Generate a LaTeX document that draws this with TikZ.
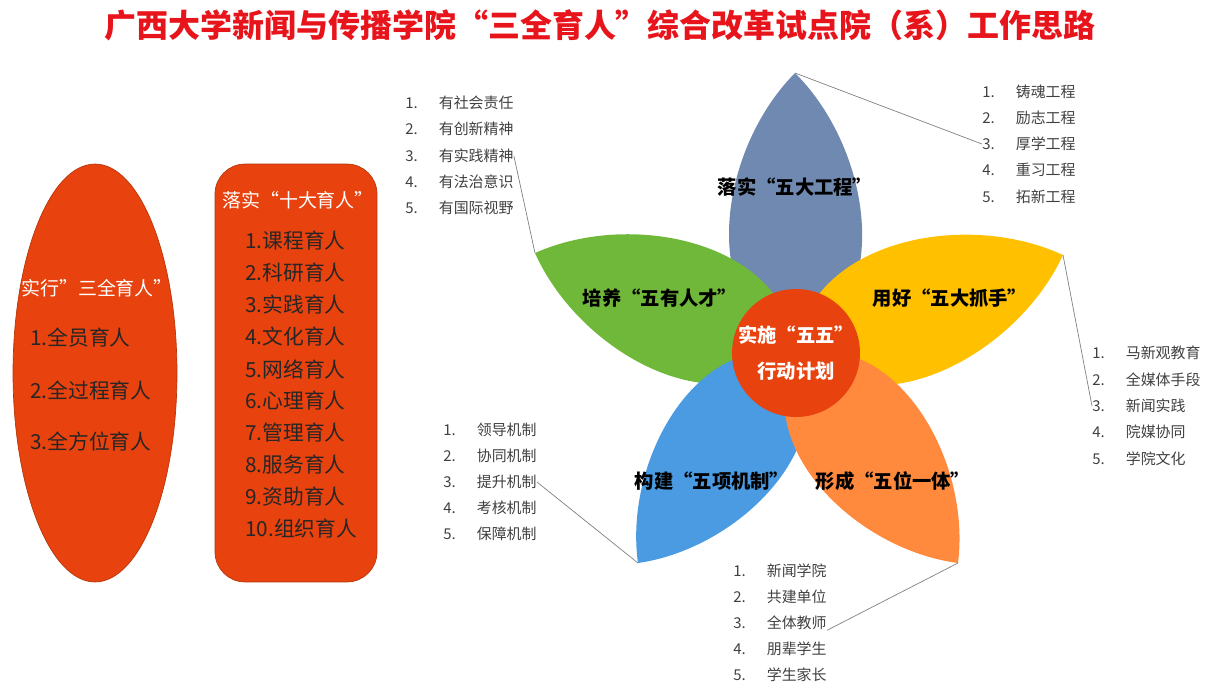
\documentclass[tikz,border=0pt]{standalone}
\usepackage{fontspec}
\setmainfont{Noto Sans CJK SC}
\usepackage{tikz}
\usetikzlibrary{shapes.geometric,positioning}

\definecolor{titlered}{HTML}{E8141B}
\definecolor{boxred}{HTML}{E8420E}
\definecolor{boxline}{HTML}{B8360A}
\definecolor{petalslate}{HTML}{6F89B0}
\definecolor{petalgreen}{HTML}{70B83A}
\definecolor{petalyellow}{HTML}{FFC000}
\definecolor{petalorange}{HTML}{FF8A3D}
\definecolor{petalblue}{HTML}{4A9BE2}
\definecolor{listgray}{HTML}{404040}

\begin{document}
\begin{tikzpicture}[x=0.02cm, y=-0.02cm,
    panel/.style={draw=boxline, fill=boxred, line width=0.4pt, minimum width=3.28cm, minimum height=8.36cm},
    head/.style={text=white, font=\fontsize{10.8}{13}\selectfont, inner sep=0pt},
    entry/.style={anchor=west, text=black!85, font=\fontsize{11.8}{13}\selectfont, inner sep=0pt},
    plabel/.style={font=\bfseries\fontsize{11}{12}\selectfont, inner sep=0pt},
    item/.style={anchor=west, text=listgray, font=\fontsize{8.5}{10}\selectfont, inner sep=0pt},
    leaf/.style={relative, out=65, in=135},
    leafback/.style={relative, out=45, in=115},
    leader/.style={draw=gray, line width=0.4pt}
]
    \useasboundingbox (0,0) rectangle (1215,691);

    % Title
    \node[font=\bfseries\fontsize{18.2}{20}\selectfont, text=titlered] (title) at (600,25) {广西大学新闻与传播学院“三全育人”综合改革试点院（系）工作思路};

    % Left column: ellipse
    \node[panel, ellipse] (sanquan) at (95,373) {};
    \node[head] (sqhead) at (97,288) {实行”三全育人”};
    \node[entry] (sq1) at (30,338) {1.全员育人};
    \node[entry] (sq2) at (30,391) {2.全过程育人};
    \node[entry] (sq3) at (30,442) {3.全方位育人};

    % Left column: rounded box
    \node[panel, rounded corners=0.6cm, minimum width=3.24cm] (shida) at (296,373) {};
    \node[head] (sdhead) at (298,200) {落实“十大育人”};
    \node[entry] (sd1) at (245,241) {1.课程育人};
    \node[entry] (sd2) at (245,273) {2.科研育人};
    \node[entry] (sd3) at (245,305) {3.实践育人};
    \node[entry] (sd4) at (245,337) {4.文化育人};
    \node[entry] (sd5) at (245,369) {5.网络育人};
    \node[entry] (sd6) at (245,401) {6.心理育人};
    \node[entry] (sd7) at (245,433) {7.管理育人};
    \node[entry] (sd8) at (245,465) {8.服务育人};
    \node[entry] (sd9) at (245,497) {9.资助育人};
    \node[entry] (sd10) at (245,529) {10.组织育人};

    % Flower
    \coordinate (hub) at (796,353);
    \coordinate (tipTop) at (795,73);
    \coordinate (tipGreen) at (535,253);
    \coordinate (tipYellow) at (1063,255);
    \coordinate (tipBlue) at (638,563);
    \coordinate (tipOrange) at (958,563);

    \fill[petalslate] (hub) to[leaf] (tipTop) to[leafback] (hub);
    \fill[petalgreen] (hub) to[leaf] (tipGreen) to[leafback] (hub);
    \fill[petalyellow] (hub) to[leaf] (tipYellow) to[leafback] (hub);
    \fill[petalblue] (hub) to[leaf] (tipBlue) to[leafback] (hub);
    \fill[petalorange] (hub) to[leaf] (tipOrange) to[leafback] (hub);

    \node[circle, fill=boxred, minimum size=2.56cm, inner sep=0pt] (plan) at (hub) {};
    \node[text=white, align=center, font=\bfseries\fontsize{11}{21}\selectfont] (plantext) at (plan.center) {实施“五五”\\行动计划};

    \node[plabel] (gongcheng) at (795,187) {落实“五大工程”};
    \node[plabel] (rencai) at (660,298) {培养“五有人才”};
    \node[plabel] (zhuashou) at (950,298) {用好“五大抓手”};
    \node[plabel] (jizhi) at (712,481) {构建“五项机制”};
    \node[plabel] (yiti) at (893,481) {形成“五位一体”};

    % Lists
    \node[item] (tl1) at (405,103) {1.\hspace{12pt}有社会责任};
    \node[item] (tl2) at (405,129) {2.\hspace{12pt}有创新精神};
    \node[item] (tl3) at (405,156) {3.\hspace{12pt}有实践精神};
    \node[item] (tl4) at (405,182) {4.\hspace{12pt}有法治意识};
    \node[item] (tl5) at (405,208) {5.\hspace{12pt}有国际视野};

    \node[item] (tr1) at (982,92) {1.\hspace{12pt}铸魂工程};
    \node[item] (tr2) at (982,118) {2.\hspace{12pt}励志工程};
    \node[item] (tr3) at (982,144) {3.\hspace{12pt}厚学工程};
    \node[item] (tr4) at (982,170) {4.\hspace{12pt}重习工程};
    \node[item] (tr5) at (982,197) {5.\hspace{12pt}拓新工程};

    \node[item] (rt1) at (1092,353) {1.\hspace{12pt}马新观教育};
    \node[item] (rt2) at (1092,380) {2.\hspace{12pt}全媒体手段};
    \node[item] (rt3) at (1092,406) {3.\hspace{12pt}新闻实践};
    \node[item] (rt4) at (1092,432) {4.\hspace{12pt}院媒协同};
    \node[item] (rt5) at (1092,459) {5.\hspace{12pt}学院文化};

    \node[item] (ml1) at (443,430) {1.\hspace{12pt}领导机制};
    \node[item] (ml2) at (443,456) {2.\hspace{12pt}协同机制};
    \node[item] (ml3) at (443,482) {3.\hspace{12pt}提升机制};
    \node[item] (ml4) at (443,508) {4.\hspace{12pt}考核机制};
    \node[item] (ml5) at (443,534) {5.\hspace{12pt}保障机制};

    \node[item] (bt1) at (733,571) {1.\hspace{12pt}新闻学院};
    \node[item] (bt2) at (733,597) {2.\hspace{12pt}共建单位};
    \node[item] (bt3) at (733,623) {3.\hspace{12pt}全体教师};
    \node[item] (bt4) at (733,649) {4.\hspace{12pt}朋辈学生};
    \node[item] (bt5) at (733,675) {5.\hspace{12pt}学生家长};

    % Leader lines
    \draw[leader] (tipTop) -- (tr3.west);
    \draw[leader] (tipGreen) -- (tl3.east);
    \draw[leader] (tipYellow) -- (rt3.west);
    \draw[leader] (tipBlue) -- (ml3.east);
    \draw[leader] (tipOrange) -- (bt3.south east);

\end{tikzpicture}
\end{document}
